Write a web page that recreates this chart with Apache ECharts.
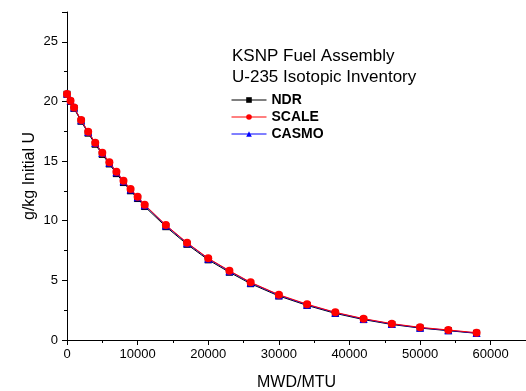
<!DOCTYPE html>
<html>
<head>
<meta charset="utf-8">
<script src="https://cdn.jsdelivr.net/npm/echarts@6/dist/echarts.min.js"></script>
<style>
  html, body { margin: 0; padding: 0; background: #fff; }
  #chart { width: 526px; height: 391px; }
</style>
</head>
<body>
<div id="chart"></div>
<script>
// burnup points, MWD/MTU
var burnup = [0, 500, 1000, 2000, 3000, 4000, 5000, 6000, 7000, 8000, 9000, 10000, 11000,
  14000, 17000, 20000, 23000, 26000, 30000, 34000, 38000, 42000, 46000, 50000, 54000, 58000]
// U-235, g/kg initial U
var ndr = [20.6, 20.0, 19.42, 18.34, 17.34, 16.41, 15.56, 14.76, 13.95, 13.2, 12.51, 11.86, 11.19,
  9.5, 8.02, 6.72, 5.68, 4.72, 3.69, 2.9, 2.23, 1.71, 1.3, 1.0, 0.78, 0.56]
var scale = [20.62, 20.06, 19.5, 18.44, 17.46, 16.54, 15.7, 14.9, 14.1, 13.35, 12.66, 12.01, 11.34,
  9.64, 8.16, 6.85, 5.81, 4.84, 3.8, 3.0, 2.32, 1.79, 1.37, 1.06, 0.84, 0.61]
var casmo = [20.66, 20.08, 19.5, 18.42, 17.44, 16.52, 15.67, 14.87, 14.07, 13.31, 12.62, 11.97, 11.3,
  9.6, 8.12, 6.81, 5.77, 4.8, 3.76, 2.96, 2.29, 1.76, 1.34, 1.03, 0.81, 0.58]
var seriesNames = ['NDR', 'SCALE', 'CASMO']

var font = 'Arial, "Liberation Sans", sans-serif'

function pairs(ys) {
  return burnup.map(function (x, i) { return [x, ys[i]] })
}

var chart = echarts.init(document.getElementById('chart'))
chart.setOption({
  animation: false,
  backgroundColor: '#fff',
  title: {
    text: 'KSNP Fuel Assembly\nU-235 Isotopic Inventory',
    left: 227,
    top: 41,
    textStyle: {
      fontFamily: font,
      fontSize: 17,
      fontWeight: 'normal',
      color: '#000',
      lineHeight: 21
    }
  },
  legend: {
    data: seriesNames,
    orient: 'vertical',
    left: 231,
    top: 93,
    padding: 0,
    itemWidth: 35,
    itemHeight: 7,
    itemGap: 3,
    lineStyle: { width: 1 },
    textStyle: {
      fontFamily: font,
      fontSize: 14,
      fontWeight: 'bold',
      color: '#000',
      lineHeight: 14
    }
  },
  grid: {
    left: 67,
    right: 0,
    top: 12,
    bottom: 51,
    outerBoundsMode: 'none'
  },
  xAxis: [
    {
      type: 'value',
      min: 0,
      max: 65000,
      interval: 10000,
      name: 'MWD/MTU',
      nameLocation: 'middle',
      nameGap: 35,
      nameMoveOverlap: false,
      nameTextStyle: { fontFamily: font, fontSize: 16, color: '#000' },
      axisLine: { lineStyle: { color: '#000', width: 1 } },
      axisTick: { inside: false, length: 5, lineStyle: { color: '#000' } },
      axisLabel: {
        fontFamily: font, fontSize: 13, color: '#000', margin: 8,
        formatter: function (v) { return v % 10000 === 0 ? String(v) : '' }
      },
      splitLine: { show: false }
    },
    {
      type: 'value',
      position: 'bottom',
      min: 0,
      max: 65000,
      interval: 5000,
      axisLine: { show: false },
      axisTick: { length: 3, lineStyle: { color: '#000' } },
      axisLabel: { show: false },
      splitLine: { show: false }
    }
  ],
  yAxis: [
    {
      type: 'value',
      min: 0,
      max: 27.5,
      interval: 5,
      name: 'g/kg Initial U',
      nameLocation: 'middle',
      nameGap: 29,
      nameMoveOverlap: false,
      nameTextStyle: { fontFamily: font, fontSize: 16, color: '#000' },
      axisLine: { show: true, lineStyle: { color: '#000', width: 1 } },
      axisTick: { show: true, length: 5, lineStyle: { color: '#000' } },
      axisLabel: {
        fontFamily: font, fontSize: 13, color: '#000', margin: 9,
        formatter: function (v) { return v % 5 === 0 ? String(v) : '' }
      },
      splitLine: { show: false }
    },
    {
      type: 'value',
      position: 'left',
      min: 0,
      max: 27.5,
      interval: 2.5,
      axisLine: { show: false },
      axisTick: { show: true, length: 3, lineStyle: { color: '#000' } },
      axisLabel: { show: false },
      splitLine: { show: false }
    }
  ],
  series: [
    {
      name: 'NDR',
      type: 'line',
      data: pairs(ndr),
      z: 2,
      symbol: 'rect',
      symbolSize: 7,
      color: '#000',
      lineStyle: { width: 1, color: '#000' },
      itemStyle: { color: '#000' }
    },
    {
      name: 'SCALE',
      type: 'line',
      data: pairs(scale),
      z: 4,
      symbol: 'circle',
      symbolSize: 8,
      color: '#ff0000',
      lineStyle: { width: 1, color: '#ff0000' },
      itemStyle: { color: '#ff0000' }
    },
    {
      name: 'CASMO',
      type: 'line',
      data: pairs(casmo),
      z: 3,
      symbol: 'triangle',
      symbolSize: 8,
      color: '#0000ff',
      lineStyle: { width: 1, color: '#0000ff' },
      itemStyle: { color: '#0000ff' }
    }
  ]
})
</script>
</body>
</html>
